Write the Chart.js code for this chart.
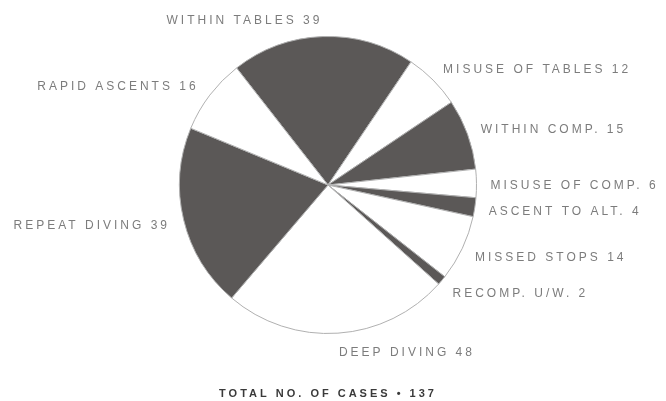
<!DOCTYPE html>
<html>
<head>
<meta charset="utf-8">
<script src="https://cdn.jsdelivr.net/npm/chart.js@4/dist/chart.umd.min.js"></script>
<style>
  html, body { margin: 0; padding: 0; background: #fff; }
  #wrap { width: 666px; height: 401px; position: relative; }
</style>
</head>
<body>
<div id="wrap"><canvas id="pie"></canvas></div>
<script>
  // Causes, clockwise from the "within tables" wedge
  const causes = [
    "WITHIN TABLES", "MISUSE OF TABLES", "WITHIN COMP.", "MISUSE OF COMP.",
    "ASCENT TO ALT.", "MISSED STOPS", "RECOMP. U/W.", "DEEP DIVING",
    "REPEAT DIVING", "RAPID ASCENTS"
  ];
  const cases = [39, 12, 15, 6, 4, 14, 2, 48, 39, 16];
  const totalText = "TOTAL NO. OF CASES \u2022 137";

  const dark = "#5b5857";
  const fills = cases.map((v, i) => i % 2 === 0 ? dark : "#ffffff");

  // writes "NAME value" beside each wedge
  const sideLabels = {
    id: "sideLabels",
    afterDraw(chart) {
      const ctx = chart.ctx;
      const arcs = chart.getDatasetMeta(0).data;
      ctx.save();
      ctx.font = "12px 'Liberation Sans', Arial, sans-serif";
      ctx.letterSpacing = "3px";
      ctx.fillStyle = "#7c7c7c";
      ctx.textBaseline = "middle";
      arcs.forEach((arc, i) => {
        const mid = (arc.startAngle + arc.endAngle) / 2;
        const x = arc.x + Math.cos(mid) * (arc.outerRadius + 14);
        const y = arc.y + Math.sin(mid) * (arc.outerRadius + 18) + 2;
        // right half of the pie: text runs out to the right
        const a = ((mid + Math.PI / 2) % (2 * Math.PI) + 2 * Math.PI) % (2 * Math.PI);
        ctx.textAlign = (a > 0 && a <= Math.PI) ? "left" : "right";
        ctx.fillText(causes[i] + " " + cases[i], x, y);
      });
      ctx.font = "bold 11px 'Liberation Sans', Arial, sans-serif";
      ctx.letterSpacing = "3px";
      ctx.fillStyle = "#3a3a3a";
      ctx.textAlign = "center";
      ctx.fillText(totalText, arcs[0].x, 394);
      ctx.restore();
    }
  };

  new Chart(document.getElementById("pie"), {
    type: "pie",
    data: {
      labels: causes,
      datasets: [{
        data: cases,
        backgroundColor: fills,
        borderColor: "#b0b0b0",
        borderWidth: 1
      }]
    },
    options: {
      responsive: true,
      maintainAspectRatio: false,
      animation: false,
      rotation: -38,
      layout: { padding: { top: 36, bottom: 67, left: 0, right: 10 } },
      plugins: {
        legend: { display: false },
        tooltip: { enabled: false }
      }
    },
    plugins: [sideLabels]
  });
</script>
</body>
</html>
